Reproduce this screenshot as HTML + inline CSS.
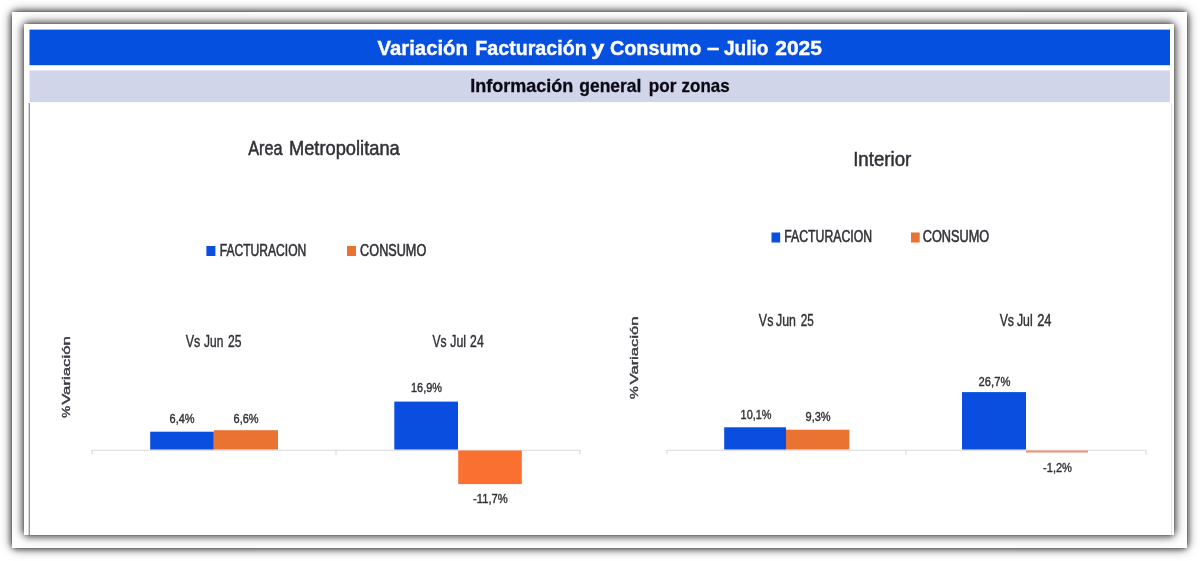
<!DOCTYPE html>
<html lang="es"><head><meta charset="utf-8"><title>Variación Facturación y Consumo – Julio 2025</title>
<style>
html,body{margin:0;padding:0;background:#fff;}
body{width:1200px;height:561px;position:relative;overflow:hidden;font-family:"Liberation Sans",sans-serif;}
.f1,.f2,.s1,.s2{position:absolute;}
.f1{left:11.8px;top:11.6px;width:1175.4px;height:536.4px;background:#fff;}
.f2{left:23.9px;top:23.6px;width:1150.2px;height:511.4px;background:#fff;}
.s1{left:13.8px;top:13.6px;width:1171.4px;height:532.4px;border-radius:4px;box-shadow:0 0 0 2.7px rgba(105,105,105,.6),0 0 4px 3.5px rgba(0,0,0,.34),0 0 10px 4px rgba(0,0,0,.5);}
.s2{left:25.9px;top:25.6px;width:1146.2px;height:507.4px;border-radius:4px;box-shadow:0 0 0 2.7px rgba(105,105,105,.55),0 0 5px 4px rgba(0,0,0,.3),0 0 9px 5px rgba(0,0,0,.45);}
svg{position:absolute;left:0;top:0;filter:blur(0.5px);}
svg text{font-family:"Liberation Sans",sans-serif;}
</style></head><body>
<div class="s1"></div><div class="f1"></div><div class="s2"></div><div class="f2"></div>
<svg width="1200" height="561" viewBox="0 0 1200 561">
<rect x="29.5" y="29.6" width="1140.50" height="35.60" fill="#0650e0"/>
<rect x="29.5" y="70.4" width="1140.50" height="31.70" fill="#d1d5e9"/>
<text transform="translate(0,55.10) scale(0.9755,1)" font-size="20.6" fill="#ffffff" font-weight="bold" stroke="#ffffff" stroke-width="0.4"><tspan x="387.07" textLength="92.66" lengthAdjust="spacingAndGlyphs">Variación</tspan> <tspan x="487.22" textLength="114.19" lengthAdjust="spacingAndGlyphs">Facturación</tspan> <tspan x="605.82" textLength="13.74" lengthAdjust="spacingAndGlyphs">y</tspan> <tspan x="625.30" textLength="93.59" lengthAdjust="spacingAndGlyphs">Consumo</tspan> <tspan x="724.73" dy="-0.70" textLength="12.61" lengthAdjust="spacingAndGlyphs">–</tspan> <tspan x="742.15" dy="0.70" textLength="45.50" lengthAdjust="spacingAndGlyphs">Julio</tspan> <tspan x="794.74" textLength="47.86" lengthAdjust="spacingAndGlyphs">2025</tspan></text>
<text transform="translate(0,91.70) scale(0.9739,1)" font-size="18" fill="#0a0a14" font-weight="bold" stroke="#0a0a14" stroke-width="0.3"><tspan x="482.91" textLength="105.76" lengthAdjust="spacingAndGlyphs">Información</tspan> <tspan x="594.83" textLength="63.66" lengthAdjust="spacingAndGlyphs">general</tspan> <tspan x="666.09" textLength="28.34" lengthAdjust="spacingAndGlyphs">por</tspan> <tspan x="699.87" textLength="49.29" lengthAdjust="spacingAndGlyphs">zonas</tspan></text>
<line x1="29.3" y1="103" x2="29.3" y2="535" stroke="#8c8ea8" stroke-width="1.3"/>
<line x1="1171.5" y1="103" x2="1171.5" y2="535" stroke="#e4e4f0" stroke-width="1.2"/>
<text transform="translate(0,155.00) scale(0.9111,1)" font-size="19.5" fill="#303036" font-weight="normal" stroke="#303036" stroke-width="0.5"><tspan x="272.43" textLength="37.64" lengthAdjust="spacingAndGlyphs">Area</tspan> <tspan x="317.10" textLength="121.71" lengthAdjust="spacingAndGlyphs">Metropolitana</tspan></text>
<rect x="206.4" y="246" width="9.00" height="10.00" fill="#094ede"/>
<text transform="translate(0,256.30) scale(0.7656,1)" font-size="15.8" fill="#303036" font-weight="normal" stroke="#303036" stroke-width="0.55"><tspan x="286.95">FACTURACION</tspan></text>
<rect x="347" y="246" width="9.00" height="10.00" fill="#ea7332"/>
<text transform="translate(0,256.30) scale(0.8024,1)" font-size="15.8" fill="#303036" font-weight="normal" stroke="#303036" stroke-width="0.55"><tspan x="448.81">CONSUMO</tspan></text>
<text transform="translate(0,346.90) scale(0.7751,1)" font-size="15.7" fill="#303036" font-weight="normal" stroke="#303036" stroke-width="0.4"><tspan x="239.65" textLength="18.90" lengthAdjust="spacingAndGlyphs">Vs</tspan> <tspan x="263.32" textLength="24.78" lengthAdjust="spacingAndGlyphs">Jun</tspan> <tspan x="294.15">25</tspan></text>
<text transform="translate(0,346.90) scale(0.7754,1)" font-size="15.7" fill="#303036" font-weight="normal" stroke="#303036" stroke-width="0.4"><tspan x="557.68" textLength="18.19" lengthAdjust="spacingAndGlyphs">Vs</tspan> <tspan x="580.76" textLength="20.25" lengthAdjust="spacingAndGlyphs">Jul</tspan> <tspan x="606.30">24</tspan></text>
<text transform="translate(70.40,417.80) rotate(-90) scale(1.3924,1)" font-size="11.6" fill="#3a3a40" font-weight="normal" stroke="#3a3a40" stroke-width="0.4"><tspan x="0.00" textLength="8.55" lengthAdjust="spacingAndGlyphs">%</tspan> <tspan x="9.34" textLength="49.27" lengthAdjust="spacingAndGlyphs">Variación</tspan></text>
<path d="M92 454.8V450.3H580V454.8M336 450.3v4.5" fill="none" stroke="#d9d9d9" stroke-width="1.1"/>
<rect x="150.2" y="431.7" width="63.60" height="17.80" fill="#094ede"/>
<rect x="213.8" y="430.2" width="64.20" height="19.30" fill="#ea7332"/>
<rect x="394.3" y="401.6" width="63.70" height="47.90" fill="#094ede"/>
<rect x="458.2" y="450.5" width="63.60" height="33.60" fill="#fa7030"/>
<text transform="translate(0,422.60) scale(0.8776,1)" font-size="12.5" fill="#303036" font-weight="normal" stroke="#303036" stroke-width="0.38"><tspan x="193.26">6,4%</tspan></text>
<text transform="translate(0,422.60) scale(0.8776,1)" font-size="12.5" fill="#303036" font-weight="normal" stroke="#303036" stroke-width="0.38"><tspan x="266.19">6,6%</tspan></text>
<text transform="translate(0,392.20) scale(0.8818,1)" font-size="12.4" fill="#303036" font-weight="normal" stroke="#303036" stroke-width="0.38"><tspan x="466.07">16,9%</tspan></text>
<text transform="translate(0,503.40) scale(0.9045,1)" font-size="12.4" fill="#303036" font-weight="normal" stroke="#303036" stroke-width="0.38"><tspan x="522.97">-11,7%</tspan></text>
<text transform="translate(0,165.70) scale(0.9525,1)" font-size="19.6" fill="#303036" font-weight="normal" stroke="#303036" stroke-width="0.5"><tspan x="895.72">Interior</tspan></text>
<rect x="771.5" y="232.5" width="8.70" height="10.00" fill="#094ede"/>
<text transform="translate(0,242.40) scale(0.7745,1)" font-size="15.8" fill="#303036" font-weight="normal" stroke="#303036" stroke-width="0.55"><tspan x="1012.69">FACTURACION</tspan></text>
<rect x="911" y="232.5" width="8.70" height="10.00" fill="#ea7332"/>
<text transform="translate(0,242.40) scale(0.8060,1)" font-size="15.8" fill="#303036" font-weight="normal" stroke="#303036" stroke-width="0.55"><tspan x="1144.81">CONSUMO</tspan></text>
<text transform="translate(0,325.70) scale(0.7759,1)" font-size="15.7" fill="#303036" font-weight="normal" stroke="#303036" stroke-width="0.4"><tspan x="978.06" textLength="18.69" lengthAdjust="spacingAndGlyphs">Vs</tspan> <tspan x="1000.23" textLength="25.65" lengthAdjust="spacingAndGlyphs">Jun</tspan> <tspan x="1032.19" textLength="16.76" lengthAdjust="spacingAndGlyphs">25</tspan></text>
<text transform="translate(0,325.70) scale(0.7933,1)" font-size="15.7" fill="#303036" font-weight="normal" stroke="#303036" stroke-width="0.4"><tspan x="1260.10" textLength="18.03" lengthAdjust="spacingAndGlyphs">Vs</tspan> <tspan x="1281.91" textLength="19.80" lengthAdjust="spacingAndGlyphs">Jul</tspan> <tspan x="1307.38" textLength="18.03" lengthAdjust="spacingAndGlyphs">24</tspan></text>
<text transform="translate(637.80,399.00) rotate(-90) scale(1.3993,1)" font-size="11.6" fill="#3a3a40" font-weight="normal" stroke="#3a3a40" stroke-width="0.4"><tspan x="0.00" textLength="9.22" lengthAdjust="spacingAndGlyphs">%</tspan> <tspan x="10.43" textLength="48.59" lengthAdjust="spacingAndGlyphs">Variación</tspan></text>
<path d="M667 454.8V450.3H1146V454.8M906 450.3v4.5" fill="none" stroke="#d9d9d9" stroke-width="1.1"/>
<rect x="724.2" y="427.3" width="61.80" height="22.20" fill="#094ede"/>
<rect x="786" y="429.7" width="63.40" height="19.80" fill="#ea7332"/>
<rect x="962" y="392.1" width="64.00" height="57.40" fill="#094ede"/>
<rect x="1026" y="450.5" width="62.00" height="2.10" fill="#ea967e"/>
<text transform="translate(0,418.90) scale(0.8790,1)" font-size="12.4" fill="#303036" font-weight="normal" stroke="#303036" stroke-width="0.38"><tspan x="842.56">10,1%</tspan></text>
<text transform="translate(0,421.00) scale(0.8882,1)" font-size="12.4" fill="#303036" font-weight="normal" stroke="#303036" stroke-width="0.38"><tspan x="906.90">9,3%</tspan></text>
<text transform="translate(0,386.20) scale(0.9046,1)" font-size="12.4" fill="#303036" font-weight="normal" stroke="#303036" stroke-width="0.38"><tspan x="1081.81">26,7%</tspan></text>
<text transform="translate(0,471.80) scale(0.8954,1)" font-size="12.4" fill="#303036" font-weight="normal" stroke="#303036" stroke-width="0.38"><tspan x="1164.88">-1,2%</tspan></text>
</svg>
</body></html>
